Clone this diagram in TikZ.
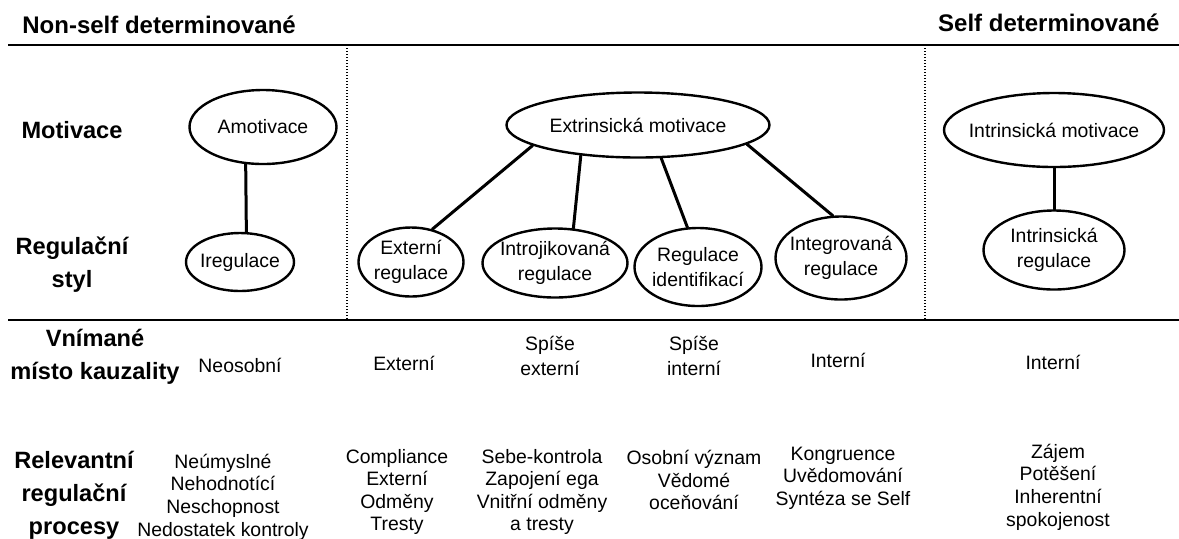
\documentclass[tikz,border=0pt]{standalone}
\usepackage{fontspec}
\setmainfont{Liberation Sans}
\usetikzlibrary{shapes.geometric}
\begin{document}
\begin{tikzpicture}[x=0.5pt, y=-0.5pt, line join=round, line cap=round,
	ell/.style 2 args={ellipse, draw, line width=1.2pt, inner xsep=-40pt, inner ysep=-10pt,
		minimum width=#1*0.5pt, minimum height=#2*0.5pt, align=center, font=\fontsize{9.7}{12.5}\selectfont},
	txt/.style={align=center, inner sep=0pt, font=\fontsize{9.7}{12.5}\selectfont},
	lst/.style={align=center, inner sep=0pt, font=\fontsize{9.7}{11.3}\selectfont},
	hd/.style={inner sep=0pt, font=\fontsize{12}{14}\selectfont\bfseries},
	row/.style={align=center, inner sep=0pt, font=\fontsize{11.8}{16.5}\selectfont\bfseries},
	rule/.style={line width=1.4pt, line cap=butt},
	sep/.style={line width=0.6pt, line cap=butt, dash pattern=on 0.6pt off 0.9pt},
	link/.style={line width=1.5pt}]
			\useasboundingbox (0,0) rectangle (1179,538);
			\def\yt{45} \def\yb{320}
			\draw[rule] (8,\yt)--(1179,\yt);
			\draw[rule] (8,\yb)--(1179,\yb);
			\draw[sep] (347,\yt+3)--(347,\yb);
			\draw[sep] (925,\yt+3)--(925,\yb);
			\node[hd, anchor=west] (nonself) at (22,25) {Non-self determinované};
			\node[hd, anchor=east] (self) at (1160,23) {Self determinované};
			% radky
			\node[row] (lmot) at (72,130) {Motivace};
			\node[row] (lreg) at (72,265) {Regulační\\styl};
			\node[row] (lkau) at (95,357) {Vnímané\\místo kauzality};
			\node[row] (lproc) at (74,495) {Relevantní\\regulační\\procesy};
			% elipsy
			\node[ell={147}{74}] (amot) at (263,127) {Amotivace};
			\node[ell={108}{58}] (ireg) at (240,262) {Iregulace};
			\node[ell={263}{65}] (extr) at (638,125) {Extrinsická motivace};
			\node[ell={105}{69}] (extreg) at (411,262) {Externí\\regulace};
			\node[ell={145}{69}] (introj) at (555,263) {Introjikovaná\\regulace};
			\node[ell={127}{78}] (ident) at (698,267) {Regulace\\identifikací};
			\node[ell={131}{83}] (integ) at (841,258) {Integrovaná\\regulace};
			\node[ell={220}{74}] (intrm) at (1054,130) {Intrinsická motivace};
			\node[ell={141}{79}] (intrr) at (1054,250) {Intrinsická\\regulace};
			\draw[link] (amot.245)--(ireg.78);
			\draw[link] (extr.191)--(extreg.57);
			\draw[link] (extr.208)--(introj.62);
			\draw[link] (extr.305)--(ident.105);
			\draw[link] (extr.350)--(integ.101);
			\draw[link] (intrm.south)--(intrr.north);
			% kauzalita
			\node[txt] (kneo) at (240,365) {Neosobní};
			\node[txt] (kext) at (404,363) {Externí};
			\node[txt] (kspe) at (550,356) {Spíše\\externí};
			\node[txt] (kspi) at (694,356) {Spíše\\interní};
			\node[txt] (kint) at (838,360) {Interní};
			\node[txt] (kinr) at (1053,362) {Interní};
			% procesy
			\node[lst] (pneo) at (223,497) {Neúmyslné\\Nehodnotící\\Neschopnost\\Nedostatek kontroly};
			\node[lst] (pext) at (397,492) {Compliance\\Externí\\Odměny\\Tresty};
			\node[lst] (pint) at (542,492) {Sebe-kontrola\\Zapojení ega\\Vnitřní odměny\\a tresty};
			\node[lst] (pide) at (694,480) {Osobní význam\\Vědomé\\oceňování};
			\node[lst] (pkon) at (843,478) {Kongruence\\Uvědomování\\Syntéza se Self};
			\node[lst] (pzaj) at (1058,487) {Zájem\\Potěšení\\Inherentní\\spokojenost};
	\end{tikzpicture}
\end{document}
